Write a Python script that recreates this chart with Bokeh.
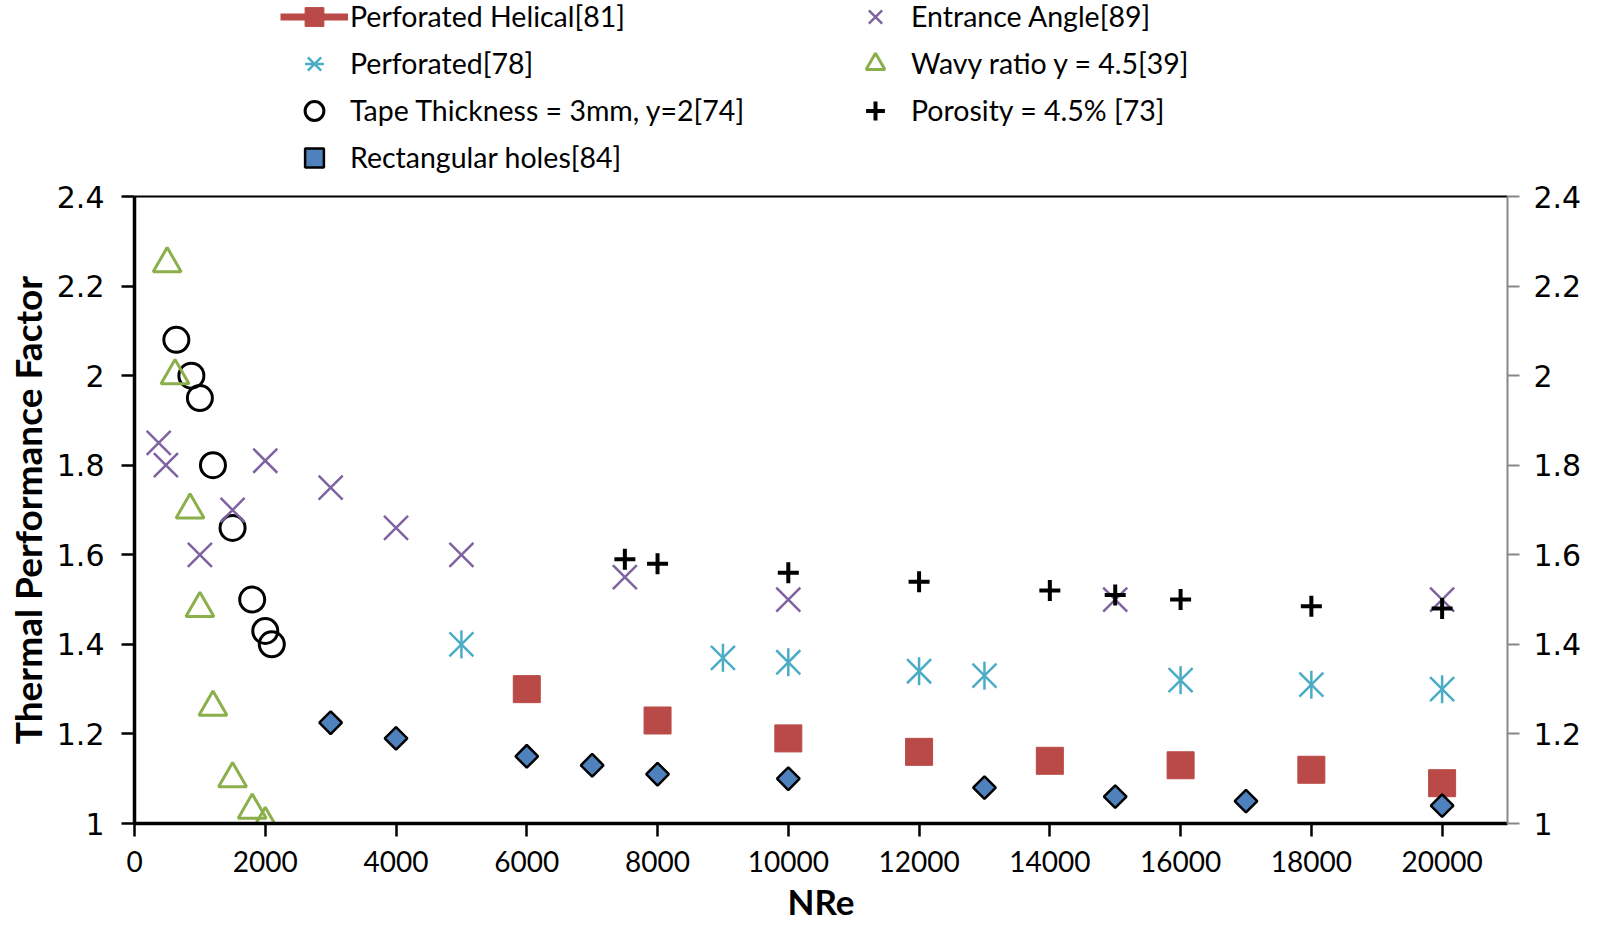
import numpy as np
from bokeh.plotting import figure
from bokeh.layouts import column
from bokeh.models import (LinearAxis, Range1d, FixedTicker, Legend, LegendItem,
                          CustomJSTickFormatter)
from bokeh.embed import file_html
from bokeh.resources import INLINE

# ---------------- data ----------------
helical_re = [6000, 8000, 10000, 12000, 14000, 16000, 18000, 20000]
helical_tpf = [1.30, 1.23, 1.19, 1.16, 1.14, 1.13, 1.12, 1.09]

perf_re = [5000, 9000, 10000, 12000, 13000, 16000, 18000, 20000]
perf_tpf = [1.40, 1.37, 1.36, 1.34, 1.33, 1.32, 1.31, 1.30]

tape_re = [640, 870, 1000, 1200, 1500, 1800, 2000, 2100]
tape_tpf = [2.08, 2.00, 1.95, 1.80, 1.66, 1.50, 1.43, 1.40]

rect_re = [3000, 4000, 6000, 7000, 8000, 10000, 13000, 15000, 17000, 20000]
rect_tpf = [1.225, 1.19, 1.15, 1.13, 1.11, 1.10, 1.08, 1.06, 1.05, 1.04]

angle_re = [370, 480, 1000, 1500, 2000, 3000, 4000, 5000, 7500, 10000, 15000, 20000]
angle_tpf = [1.85, 1.80, 1.60, 1.70, 1.81, 1.75, 1.66, 1.60, 1.55, 1.50, 1.50, 1.50]

wavy_re = [500, 620, 850, 1000, 1200, 1500, 1800, 2000]
wavy_tpf = [2.25, 2.00, 1.70, 1.48, 1.26, 1.10, 1.03, 1.00]

poro_re = [7500, 8000, 10000, 12000, 14000, 15000, 16000, 18000, 20000]
poro_tpf = [1.59, 1.58, 1.56, 1.54, 1.52, 1.51, 1.50, 1.485, 1.48]

series_labels = ["Perforated Helical[81]", "Perforated[78]",
                 "Tape Thickness = 3mm, y=2[74]", "Rectangular holes[84]",
                 "Entrance Angle[89]", "Wavy ratio y = 4.5[39]", "Porosity = 4.5% [73]"]

x_ticks = [0, 2000, 4000, 6000, 8000, 10000, 12000, 14000, 16000, 18000, 20000]
x_tick_labels = ["0", "2000", "4000", "6000", "8000", "10000", "12000",
                 "14000", "16000", "18000", "20000"]
y_ticks = [1.0, 1.2, 1.4, 1.6, 1.8, 2.0, 2.2, 2.4]
y_tick_labels = ["1", "1.2", "1.4", "1.6", "1.8", "2", "2.2", "2.4"]

# ---------------- style ----------------
RED = "#BA4A47"
TEAL = "#4BACC6"
BLUE = "#4F81BD"
PURPLE = "#7F63A1"
GREEN = "#8BAF4A"
FONT = "Lato"
TICKFONT = "DejaVu Sans"

STYLES = [
    [dict(kind="line", line_color=RED, line_width=7),
     dict(marker="square", size=27, fill_color=RED, line_color=RED, line_width=1)],
    [dict(marker="x", size=34, line_color=TEAL, line_width=2.5),
     dict(marker="dash", angle=np.pi / 2, size=28, line_color=TEAL, line_width=2.5)],
    [dict(marker="circle", size=25, fill_color=None, line_color="black", line_width=3)],
    [dict(marker="square", angle=np.pi / 4, size=16, fill_color=BLUE,
          line_color="black", line_width=2.5)],
    [dict(marker="x", size=34, line_color=PURPLE, line_width=2.5)],
    [dict(marker="triangle", size=28, fill_color=None, line_color=GREEN, line_width=3)],
    [dict(marker="cross", size=21, line_color="black", line_width=4)],
]
SERIES = [(helical_re, helical_tpf), (perf_re, perf_tpf), (tape_re, tape_tpf),
          (rect_re, rect_tpf), (angle_re, angle_tpf), (wavy_re, wavy_tpf),
          (poro_re, poro_tpf)]

W = 1584
LEG_H = 178
MAIN_H = 927 - LEG_H

# ---------------- main plot ----------------
p = figure(width=W, height=MAIN_H, x_range=Range1d(0, 21000), y_range=Range1d(1, 2.4),
           output_backend="svg", toolbar_location=None,
           min_border_left=134, min_border_right=74, min_border_top=18,
           min_border_bottom=104)
p.xgrid.visible = False
p.ygrid.visible = False
p.outline_line_color = None

fmt_code = """
const i = tv.findIndex(t => Math.abs(t - tick) < 1e-9);
return i >= 0 ? lb[i] : '';
"""
yfmt = CustomJSTickFormatter(args=dict(tv=y_ticks, lb=y_tick_labels), code=fmt_code)
xfmt = CustomJSTickFormatter(args=dict(tv=x_ticks, lb=x_tick_labels), code=fmt_code)

xa = p.xaxis[0]
xa.ticker = FixedTicker(ticks=x_ticks)
xa.formatter = xfmt
xa.axis_line_width = 3.5
xa.axis_line_color = "black"
xa.major_tick_out = 13
xa.major_tick_in = 0
xa.major_tick_line_width = 2.5
xa.minor_tick_line_color = None
xa.major_label_standoff = 14
xa.major_label_text_font = FONT
xa.major_label_text_font_size = "28px"
xa.major_label_text_color = "black"
xa.axis_label = "NRe"
xa.axis_label_text_font = FONT
xa.axis_label_text_font_style = "bold"
xa.axis_label_text_font_size = "35px"
xa.axis_label_standoff = 5
xa.axis_label_text_color = "black"

ya = p.yaxis[0]
ya.ticker = FixedTicker(ticks=y_ticks)
ya.formatter = yfmt
ya.axis_line_width = 3.5
ya.axis_line_color = "black"
ya.major_tick_out = 13
ya.major_tick_in = 0
ya.major_tick_line_width = 2.5
ya.minor_tick_line_color = None
ya.major_label_standoff = 17
ya.major_label_text_font = TICKFONT
ya.major_label_text_font_size = "30px"
ya.major_label_text_color = "black"
ya.axis_label = "Thermal Performance Factor"
ya.axis_label_text_font = FONT
ya.axis_label_text_font_style = "bold"
ya.axis_label_text_font_size = "37px"
ya.axis_label_standoff = 4
ya.axis_label_text_color = "black"

ra = LinearAxis(ticker=FixedTicker(ticks=y_ticks), formatter=yfmt)
ra.axis_line_width = 2
ra.axis_line_color = "#878787"
ra.major_tick_out = 12
ra.major_tick_in = 0
ra.major_tick_line_width = 2
ra.major_tick_line_color = "#878787"
ra.minor_tick_line_color = None
ra.major_label_standoff = 14
ra.major_label_text_font = TICKFONT
ra.major_label_text_font_size = "30px"
ra.major_label_text_color = "black"
p.add_layout(ra, "right")

ta = LinearAxis(ticker=FixedTicker(ticks=[]))
ta.axis_line_width = 2
ta.axis_line_color = "black"
ta.major_tick_line_color = None
ta.minor_tick_line_color = None
ta.major_tick_out = 0
ta.major_tick_in = 0
ta.major_label_standoff = 0
ta.major_label_text_font_size = "0px"
p.add_layout(ta, "above")


def add_series(fig, xs, ys, styles):
    rs = []
    for st in styles:
        st = dict(st)
        if st.pop("kind", None) == "line":
            if xs is None:
                rs.append(fig.line(x=[np.nan], y=[np.nan], **st))
            continue
        if xs is None:
            rs.append(fig.scatter(x=[np.nan], y=[np.nan], **st))
        else:
            rs.append(fig.scatter(xs, ys, **st))
    return rs


for (xs, ys), st in zip(SERIES, STYLES):
    add_series(p, xs, ys, st)

# ---------------- legend strip above the plot ----------------
lf = figure(width=W, height=LEG_H, x_range=Range1d(0, 1), y_range=Range1d(0, 1),
            output_backend="svg", toolbar_location=None,
            x_axis_type=None, y_axis_type=None, min_border=0)
lf.xgrid.visible = False
lf.ygrid.visible = False
lf.outline_line_color = None

items = []
for lab, st in zip(series_labels, STYLES):
    items.append(LegendItem(label=lab, renderers=add_series(lf, None, None, st)))

legend = Legend(items=items, location=(146, -2.5),
                orientation="vertical", nrows=4)
legend.padding = 0
legend.margin = 0
legend.border_line_color = None
legend.background_fill_alpha = 0
legend.label_text_font = FONT
legend.label_text_font_size = "28.5px"
legend.label_text_color = "black"
legend.glyph_width = 68
legend.glyph_height = 47
legend.label_height = 47
legend.label_width = 491
legend.label_standoff = 2
legend.spacing = 0
lf.add_layout(legend)

layout = column(lf, p, spacing=0)
open("out.html", "w").write(file_html(layout, INLINE))
